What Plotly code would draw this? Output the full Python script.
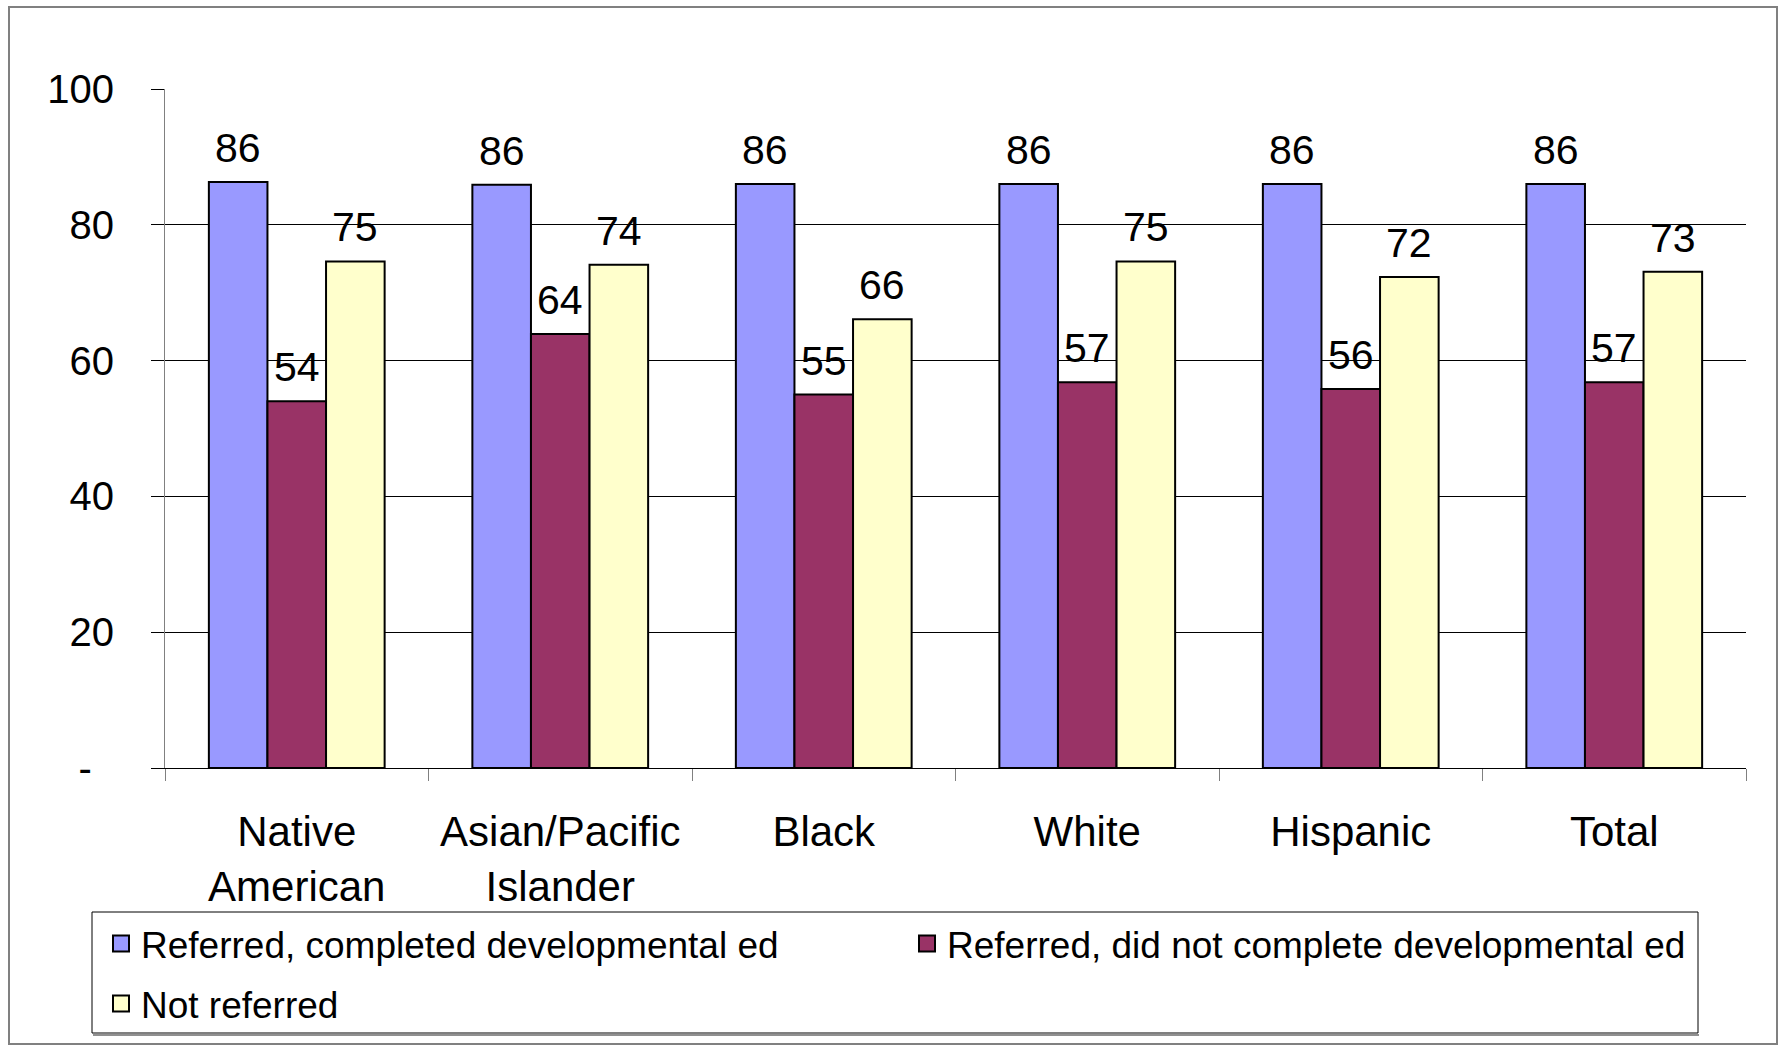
import plotly.graph_objects as go

categories = ["Native<br>American", "Asian/Pacific<br>Islander", "Black", "White", "Hispanic", "Total"]
series_names = ["Referred, completed developmental ed",
                "Referred, did not complete developmental ed",
                "Not referred"]
completed = [86.3, 85.9, 86.0, 86.0, 86.0, 86.0]
not_completed = [54.0, 63.9, 55.0, 56.8, 55.8, 56.8]
not_referred = [74.6, 74.1, 66.1, 74.6, 72.3, 73.1]
series_values = [completed, not_completed, not_referred]
colors = ["#9999FF", "#993366", "#FFFFCC"]
y_tickvals = [0, 20, 40, 60, 80, 100]
y_ticktext = ["-\u00a0\u00a0", "20", "40", "60", "80", "100"]

FONT = "Liberation Sans, Arial, sans-serif"
W, H = 1789, 1047
ML, MR, MT, MB = 165, 43, 89, 279
BARGAP = 0.333
n_series = len(series_values)
bar_w = (1 - BARGAP) / n_series

pw = W - ML - MR
ph = H - MT - MB
def px_x(x):
    return (x - ML) / pw
def px_y(y):
    return (H - MB - y) / ph

fig = go.Figure()
for name, vals, col in zip(series_names, series_values, colors):
    fig.add_trace(go.Bar(
        name=name, x=categories, y=vals, showlegend=False,
        marker=dict(color=col, line=dict(color="black", width=2)),
        hoverinfo="skip",
    ))

# legend entries (larger square swatches, like the original)
legend_ids = ["legend", "legend", "legend2"]
for name, col, lg in zip(series_names, colors, legend_ids):
    fig.add_trace(go.Scatter(
        name=name, x=[None], y=[None], mode="markers", legend=lg,
        marker=dict(symbol="square", size=16, color=col,
                    line=dict(color="black", width=2)),
        hoverinfo="skip",
    ))

annotations = []
for k, vals in enumerate(series_values):
    off = (k - (n_series - 1) / 2) * bar_w
    for i, v in enumerate(vals):
        annotations.append(dict(
            x=i + off, y=v, xref="x", yref="y", text=f"{v:.0f}",
            showarrow=False, yanchor="bottom", xanchor="center", yshift=9,
            font=dict(family=FONT, size=41, color="black"),
        ))

leg_common = dict(
    orientation="h", xanchor="left", yanchor="top",
    borderwidth=0, bgcolor="rgba(0,0,0,0)",
    font=dict(size=37, family=FONT), entrywidth=761, entrywidthmode="pixels",
    traceorder="normal", itemsizing="trace",
)

fig.update_layout(
    width=W, height=H,
    margin=dict(l=ML, r=MR, t=MT, b=MB),
    paper_bgcolor="white", plot_bgcolor="white",
    barmode="group", bargap=BARGAP, bargroupgap=0,
    font=dict(family=FONT, color="black"),
    annotations=annotations,
    xaxis=dict(
        type="category", showline=True, linecolor="black", linewidth=1,
        ticks="outside", tickson="boundaries", ticklen=12, tickcolor="#808080",
        tickfont=dict(size=42, family=FONT), ticklabelstandoff=27,
        showgrid=False, fixedrange=True,
    ),
    yaxis=dict(
        range=[0, 100], tickvals=y_tickvals, ticktext=y_ticktext,
        showgrid=True, gridcolor="black", gridwidth=1,
        showline=True, linecolor="#808080", linewidth=1,
        ticks="outside", ticklen=13, tickcolor="black",
        tickfont=dict(size=40, family=FONT), ticklabelstandoff=29,
        zeroline=False, fixedrange=True,
    ),
    showlegend=True,
    legend=dict(x=px_x(101), y=px_y(913), **leg_common),
    legend2=dict(x=px_x(101), y=px_y(973), **leg_common),
    shapes=[
        dict(type="rect", xref="paper", yref="paper",
             x0=px_x(9), x1=px_x(1777), y0=px_y(1044), y1=px_y(7),
             line=dict(color="#808080", width=2), layer="below"),
        dict(type="line", xref="paper", yref="paper",
             x0=px_x(93), x1=px_x(1699), y0=px_y(1035), y1=px_y(1035),
             line=dict(color="#909090", width=2)),
        dict(type="rect", xref="paper", yref="paper",
             x0=px_x(92), x1=px_x(1698), y0=px_y(1033), y1=px_y(912),
             line=dict(color="black", width=1)),
    ],
)

fig.write_html("out.html")
